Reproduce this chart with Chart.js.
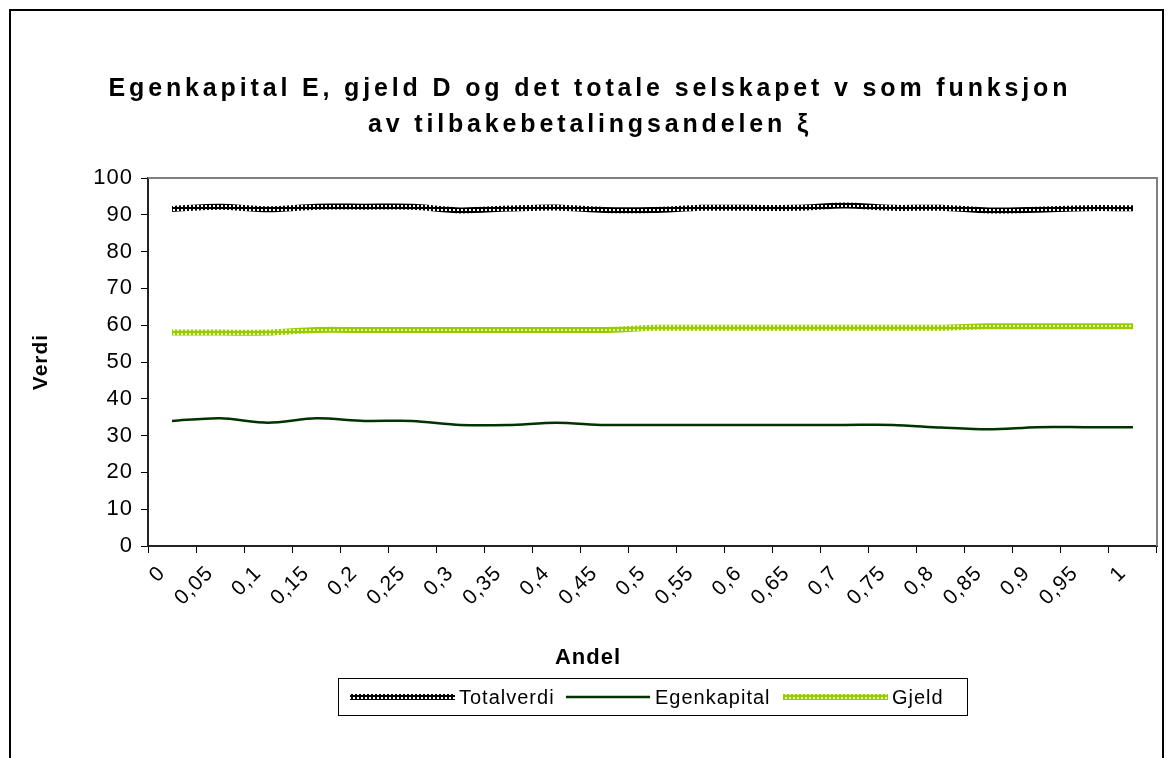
<!DOCTYPE html>
<html lang="no">
<head>
<meta charset="utf-8">
<title>Egenkapital E, gjeld D og det totale selskapet v</title>
<script src="https://cdn.jsdelivr.net/npm/chart.js@4.4.1/dist/chart.umd.min.js"></script>
<style>
  html, body { margin: 0; padding: 0; background: #fff; }
  #wrap { width: 1174px; height: 758px; }
</style>
</head>
<body>
<div id="wrap"><canvas id="grafVerdi" width="1174" height="758"></canvas></div>
<script>
// Data lest av figuren
const andeler = ['0', '0,05', '0,1', '0,15', '0,2', '0,25', '0,3', '0,35', '0,4', '0,45', '0,5',
                 '0,55', '0,6', '0,65', '0,7', '0,75', '0,8', '0,85', '0,9', '0,95', '1'];
const totalverdi = [91.6, 92.2, 91.5, 92.2, 92.2, 92.2, 91.2, 91.7, 92.0, 91.3, 91.3,
                    91.9, 91.9, 91.9, 92.5, 91.9, 91.9, 91.2, 91.4, 91.8, 91.8];
const egenkapital = [34.0, 34.7, 33.5, 34.7, 34.0, 34.0, 32.9, 32.9, 33.5, 32.9, 32.9,
                     32.9, 32.9, 32.9, 32.9, 32.9, 32.2, 31.7, 32.3, 32.3, 32.3];
const gjeld = [58.0, 58.0, 58.0, 58.7, 58.7, 58.7, 58.7, 58.7, 58.7, 58.7, 59.3,
               59.3, 59.3, 59.3, 59.3, 59.3, 59.3, 59.7, 59.7, 59.7, 59.7];
const verdiTicks = [0, 10, 20, 30, 40, 50, 60, 70, 80, 90, 100];

const tittelLinjer = [
  'Egenkapital E, gjeld D og det totale selskapet v som funksjon',
  'av tilbakebetalingsandelen ξ'
];
const xTittel = 'Andel';

const FONT = '"Liberation Sans", Arial, sans-serif';

document.addEventListener('DOMContentLoaded', () => {
  tegnGraf();
});

// Lager et lite rutemønster som brukes som linjefarge (Excel-stil)
function lagMonster(ctx, farge, hull) {
  const c = document.createElement('canvas');
  c.width = 4;
  c.height = 4;
  const g = c.getContext('2d');
  g.fillStyle = farge;
  g.fillRect(0, 0, 4, 4);
  g.fillStyle = hull;
  g.fillRect(1, 1, 2, 2);
  return ctx.createPattern(c, 'repeat');
}

// Ramme rundt hele figuren og plottområdet
const rammePlugin = {
  id: 'ramme',
  beforeDraw(chart) {
    const ctx = chart.ctx;
    ctx.fillStyle = '#fff';
    ctx.fillRect(0, 0, chart.width, chart.height);
    ctx.strokeStyle = '#000';
    ctx.lineWidth = 2;
    ctx.strokeRect(10, 10, 1153, 800);
    // litt bredere tekst, slik Excel tegner den
    ctx.letterSpacing = '1px';
  },
  afterDatasetsDraw(chart) {
    const a = chart.chartArea;
    const ctx = chart.ctx;
    ctx.save();
    ctx.strokeStyle = '#808080';
    ctx.lineWidth = 2;
    ctx.beginPath();
    ctx.moveTo(a.left, a.top);
    ctx.lineTo(a.right, a.top);
    ctx.lineTo(a.right, a.bottom);
    ctx.stroke();
    ctx.restore();
  }
};

// Tittel og aksetittel for x
const tittelPlugin = {
  id: 'tittel',
  afterDraw(chart) {
    const ctx = chart.ctx;
    ctx.save();
    ctx.fillStyle = '#000';
    ctx.font = 'bold 25px ' + FONT;
    ctx.textBaseline = 'middle';
    ctx.textAlign = 'left';
    ctx.letterSpacing = '0px';
    const w0 = ctx.measureText(tittelLinjer[0]).width;
    const sperr = Math.max(0, (963 - w0) / tittelLinjer[0].length);
    ctx.letterSpacing = sperr.toFixed(2) + 'px';
    tittelLinjer.forEach((linje, i) => {
      const w = ctx.measureText(linje).width - sperr;
      ctx.fillText(linje, 588 - w / 2, 89 + i * 36);
    });

    ctx.font = 'bold 22px ' + FONT;
    ctx.letterSpacing = '1px';
    const wx = ctx.measureText(xTittel).width;
    ctx.fillText(xTittel, 588 - wx / 2, 658);
    ctx.restore();
  }
};

// Forklaring i boks under grafen
const forklaringPlugin = {
  id: 'forklaring',
  afterDraw(chart) {
    const ctx = chart.ctx;
    const y = 697;
    const elementer = [
      { ds: 0, x1: 350, x2: 455, tx: 459 },
      { ds: 1, x1: 566, x2: 650, tx: 655 },
      { ds: 2, x1: 783, x2: 888, tx: 892 }
    ];
    ctx.save();
    ctx.strokeStyle = '#000';
    ctx.lineWidth = 1;
    ctx.strokeRect(338.5, 678.5, 629, 37);
    ctx.font = '20px ' + FONT;
    ctx.letterSpacing = '1px';
    ctx.textBaseline = 'middle';
    ctx.fillStyle = '#000';
    elementer.forEach(el => {
      const ds = chart.data.datasets[el.ds];
      ctx.strokeStyle = ds.borderColor;
      ctx.lineWidth = ds.borderWidth;
      ctx.beginPath();
      ctx.moveTo(el.x1, y);
      ctx.lineTo(el.x2, y);
      ctx.stroke();
      ctx.fillText(ds.label, el.tx, y + 1);
    });
    ctx.restore();
  }
};

function tegnGraf() {
  const canvas = document.getElementById('grafVerdi');
  const ctx = canvas.getContext('2d');

  const totalMonster = lagMonster(ctx, '#000000', '#ffffff');
  const gjeldMonster = lagMonster(ctx, '#99cc00', '#e6f5b0');

  new Chart(ctx, {
    type: 'line',
    data: {
      labels: andeler,
      datasets: [
        {
          label: 'Totalverdi',
          data: totalverdi,
          borderColor: totalMonster,
          borderWidth: 6,
          pointRadius: 0,
          tension: 0.3
        },
        {
          label: 'Egenkapital',
          data: egenkapital,
          borderColor: '#003300',
          borderWidth: 2.5,
          pointRadius: 0,
          tension: 0.3
        },
        {
          label: 'Gjeld',
          data: gjeld,
          borderColor: gjeldMonster,
          borderWidth: 6,
          pointRadius: 0,
          tension: 0.3
        }
      ]
    },
    options: {
      responsive: false,
      animation: false,
      devicePixelRatio: 1,
      layout: {
        padding: { left: 10, right: 17, top: 178, bottom: 88 }
      },
      plugins: {
        legend: { display: false },
        title: { display: false },
        tooltip: { enabled: false }
      },
      scales: {
        x: {
          offset: true,
          grid: {
            offset: true,
            drawOnChartArea: false,
            color: '#000',
            tickLength: 7,
            lineWidth: 1
          },
          border: { display: true, color: '#222', width: 2 },
          ticks: {
            autoSkip: false,
            minRotation: 45,
            maxRotation: 45,
            padding: 8,
            labelOffset: -10,
            color: '#000',
            font: { family: FONT, size: 21 }
          },
          afterFit(scale) {
            scale.height = 124;
          }
        },
        y: {
          min: 0,
          max: 100,
          grid: {
            drawOnChartArea: false,
            color: '#000',
            tickLength: 7,
            lineWidth: 1
          },
          border: { display: true, color: '#222', width: 2 },
          ticks: {
            padding: 8,
            color: '#000',
            font: { family: FONT, size: 22 }
          },
          afterBuildTicks(scale) {
            scale.ticks = verdiTicks.map(v => ({ value: v }));
          },
          title: {
            display: true,
            text: 'Verdi',
            color: '#000',
            padding: { top: 19, bottom: 0 },
            font: { family: FONT, size: 21, weight: 'bold' }
          },
          afterFit(scale) {
            scale.width = 138;
          }
        }
      }
    },
    plugins: [rammePlugin, tittelPlugin, forklaringPlugin]
  });
}
</script>
</body>
</html>
